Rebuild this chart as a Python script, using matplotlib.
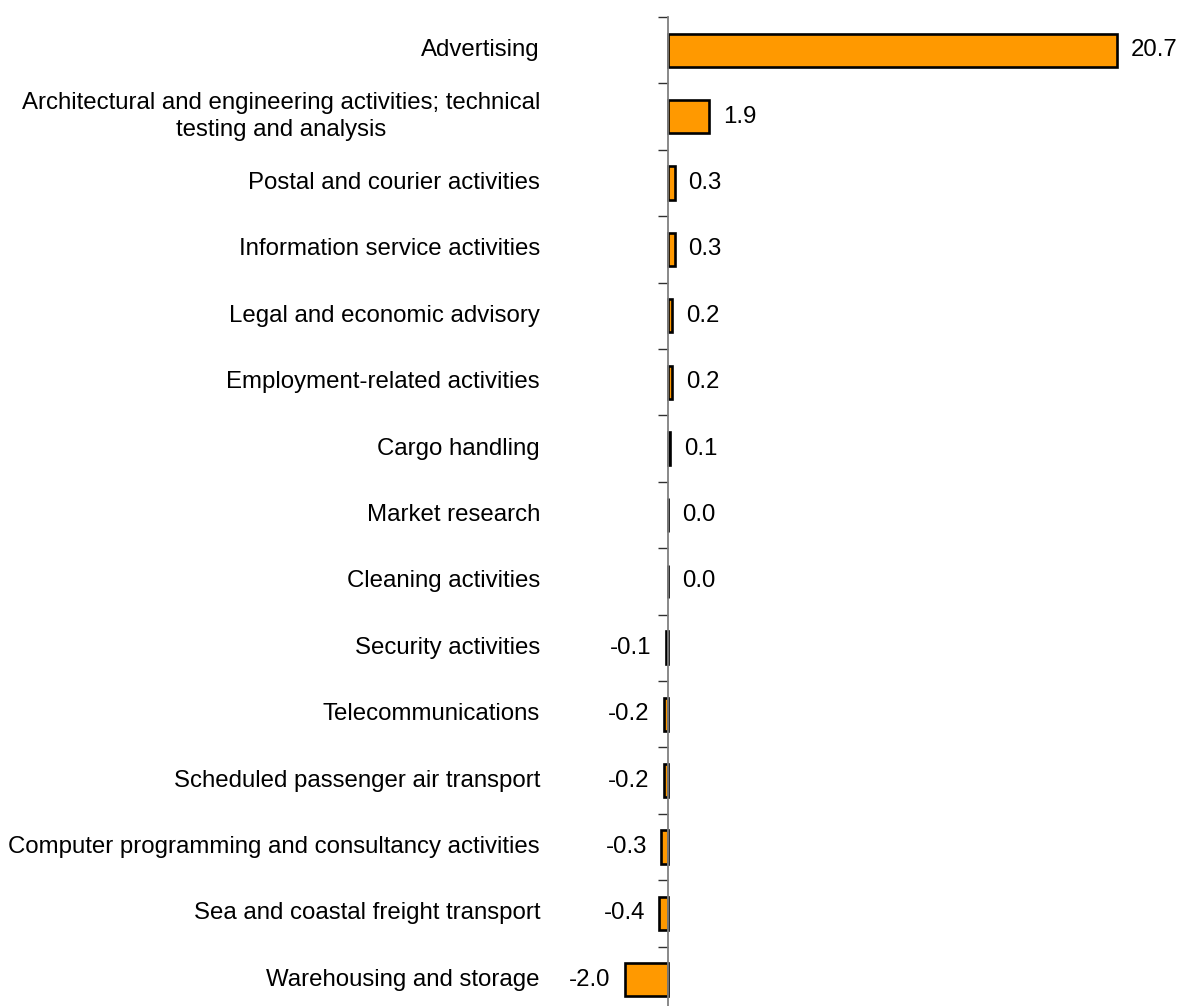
import matplotlib
matplotlib.use("Agg")
import matplotlib.pyplot as plt
from matplotlib.transforms import blended_transform_factory
import numpy as np

plt.rcParams['font.family'] = ['Liberation Sans', 'DejaVu Sans']

categories = [
    "Advertising",
    "Architectural and engineering activities; technical\ntesting and analysis",
    "Postal and courier activities",
    "Information service activities",
    "Legal and economic advisory",
    "Employment-related activities",
    "Cargo handling",
    "Market research",
    "Cleaning activities",
    "Security activities",
    "Telecommunications",
    "Scheduled passenger air transport",
    "Computer programming and consultancy activities",
    "Sea and coastal freight transport",
    "Warehousing and storage",
]
values = [20.7, 1.9, 0.3, 0.3, 0.2, 0.2, 0.1, 0.0, 0.0, -0.1, -0.2, -0.2, -0.3, -0.4, -2.0]
value_labels = ["20.7", "1.9", "0.3", "0.3", "0.2", "0.2", "0.1", "0.0", "0.0",
                "-0.1", "-0.2", "-0.2", "-0.3", "-0.4", "-2.0"]

W, H = 1181, 1006
fig = plt.figure(figsize=(W / 100, H / 100), dpi=100)

xmin, xmax = -3.0, 23.5
scale = 21.69
zero_px = 668
left_px = zero_px + xmin * scale
width_px = (xmax - xmin) * scale
top_px, bot_px = 17, 1013
ax = fig.add_axes([left_px / W, 1 - bot_px / H, width_px / W, (bot_px - top_px) / H])

FS = 17.3

y = np.arange(len(categories))
ax.barh(y, values, height=0.5, color="#FF9900", edgecolor="black", linewidth=1.9, zorder=3)
ax.set_xlim(xmin, xmax)
ax.set_ylim(len(categories) - 0.5, -0.5)

for s in ["top", "right", "bottom"]:
    ax.spines[s].set_visible(False)
ax.spines["left"].set_position(("data", 0))
ax.spines["left"].set_color("#808080")
ax.spines["left"].set_linewidth(1.3)
ax.spines["left"].set_zorder(4)

ax.set_xticks([])
ax.set_yticks([])
ax.set_yticks(np.arange(-0.5, len(categories), 1.0), minor=True)
ax.tick_params(axis="y", which="minor", length=7, width=1, color="#303030",
               direction="out", labelleft=False)

trans = blended_transform_factory(fig.transFigure, ax.transData)
for yi, cat in zip(y, categories):
    ax.text(540 / W, yi, cat, transform=trans, ha="right", va="center",
            multialignment="center", fontsize=FS, color="black", linespacing=1.25)

off = 14 / scale
for yi, v, lab in zip(y, values, value_labels):
    if v >= 0:
        ax.text(v + off, yi, lab, ha="left", va="center", fontsize=FS)
    else:
        ax.text(v - off, yi, lab, ha="right", va="center", fontsize=FS)

fig.savefig("out.png", dpi=100)
